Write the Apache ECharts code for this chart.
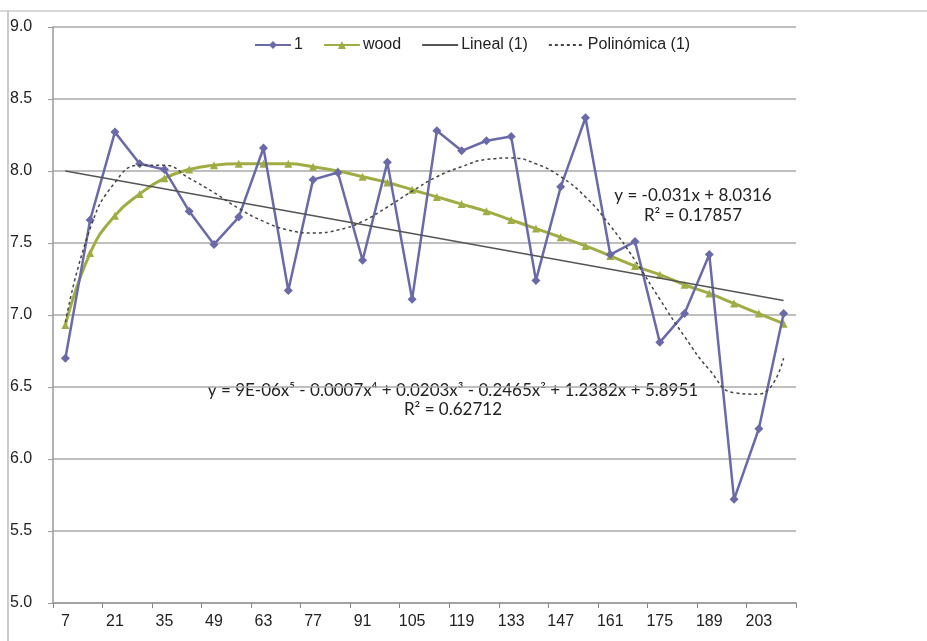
<!DOCTYPE html>
<html>
<head>
<meta charset="utf-8">
<script src="https://cdn.jsdelivr.net/npm/echarts@6/dist/echarts.min.js"></script>
<style>
  html, body { margin: 0; padding: 0; background: #fff; }
  #chart { width: 927px; height: 641px; }
</style>
</head>
<body>
<div id="chart"></div>
<script>
// days, step of 7
var days = ['7', '14', '21', '28', '35', '42', '49', '56', '63', '70', '77', '84', '91', '98', '105',
  '112', '119', '126', '133', '140', '147', '154', '161', '168', '175', '182', '189', '196', '203', '210']
var serie1 = [6.70, 7.66, 8.27, 8.05, 8.01, 7.72, 7.49, 7.68, 8.16, 7.17, 7.94, 7.99, 7.38, 8.06, 7.11,
  8.28, 8.14, 8.21, 8.24, 7.24, 7.89, 8.37, 7.42, 7.51, 6.81, 7.01, 7.42, 5.72, 6.21, 7.01]
var wood = [6.93, 7.43, 7.69, 7.84, 7.95, 8.01, 8.04, 8.05, 8.05, 8.05, 8.03, 8.00, 7.96, 7.92, 7.87,
  7.82, 7.77, 7.72, 7.66, 7.60, 7.54, 7.48, 7.41, 7.34, 7.28, 7.21, 7.15, 7.08, 7.01, 6.94]
// trend line ends (first and last day)
var lineal = [['7', 8.00], ['210', 7.10]]
var polinomica = [6.95, 7.60, 7.92, 8.04, 8.04, 7.95, 7.85, 7.74, 7.65, 7.59, 7.57, 7.59, 7.65, 7.75, 7.86,
  7.96, 8.03, 8.08, 8.09, 8.05, 7.96, 7.82, 7.62, 7.38, 7.11, 6.85, 6.62, 6.46, 6.45, 6.70]

var purple = '#6a6aa8'
var olive = '#a0ad45'
var txtFont = '17px Lato, "Open Sans", sans-serif'

var option = {
  animation: false,
  backgroundColor: '#fff',
  textStyle: { fontFamily: '"Liberation Sans", Arial, sans-serif' },
  legend: {
    top: 32,
    left: 249,
    itemGap: 20,
    itemWidth: 36,
    itemHeight: 10,
    textStyle: { fontSize: 16, color: '#222', padding: [0, 0, 0, -2] },
    data: [
      '1',
      'wood',
      { name: 'Lineal (1)', itemStyle: { opacity: 0 } },
      { name: 'Polinómica (1)', itemStyle: { opacity: 0 } }
    ]
  },
  grid: { left: 53, right: 131, top: 27, bottom: 38 },
  xAxis: {
    type: 'category',
    data: days,
    boundaryGap: true,
    axisLine: { lineStyle: { color: '#999', width: 1.5 } },
    axisTick: { show: true, length: 5, lineStyle: { color: '#888' } },
    axisLabel: { interval: 1, color: '#222', fontSize: 16, margin: 11 },
    splitLine: { show: false }
  },
  yAxis: {
    type: 'value',
    min: 5, max: 9, interval: 0.5,
    axisLine: { show: true, lineStyle: { color: '#999', width: 1.5 } },
    axisTick: { show: true, length: 5, lineStyle: { color: '#999' } },
    axisLabel: {
      color: '#222', fontSize: 16, margin: 43, align: 'left',
      formatter: function (v) { return v.toFixed(1) }
    },
    splitLine: { lineStyle: { color: '#aaa', width: 1.5 } }
  },
  graphic: [
    { type: 'line', shape: { x1: 0, y1: 11, x2: 927, y2: 11 }, style: { stroke: '#ccc', lineWidth: 1.5 } },
    { type: 'line', shape: { x1: 8, y1: 11, x2: 8, y2: 641 }, style: { stroke: '#bbb', lineWidth: 1.5 } },
    { type: 'text', x: 693, y: 196, style: { text: 'y = -0.031x + 8.0316', font: txtFont, fill: '#222', textAlign: 'center', textVerticalAlign: 'middle' } },
    { type: 'text', x: 693, y: 216, style: { text: 'R² = 0.17857', font: txtFont, fill: '#222', textAlign: 'center', textVerticalAlign: 'middle' } },
    { type: 'text', x: 453, y: 391, style: { text: 'y = 9E-06x⁵ - 0.0007x⁴ + 0.0203x³ - 0.2465x² + 1.2382x + 5.8951', font: txtFont, fill: '#222', textAlign: 'center', textVerticalAlign: 'middle' } },
    { type: 'text', x: 453, y: 410, style: { text: 'R² = 0.62712', font: txtFont, fill: '#222', textAlign: 'center', textVerticalAlign: 'middle' } }
  ],
  series: [
    {
      name: '1',
      type: 'line',
      data: serie1,
      symbol: 'diamond',
      symbolSize: 9,
      itemStyle: { color: purple },
      lineStyle: { color: purple, width: 2.5 },
      z: 3
    },
    {
      name: 'wood',
      type: 'line',
      data: wood,
      smooth: true,
      symbol: 'triangle',
      symbolSize: 8,
      itemStyle: { color: olive },
      lineStyle: { color: olive, width: 3 },
      z: 2
    },
    {
      name: 'Lineal (1)',
      type: 'line',
      data: lineal,
      symbol: 'none',
      itemStyle: { color: '#555' },
      lineStyle: { color: '#555', width: 1.5 },
      z: 4
    },
    {
      name: 'Polinómica (1)',
      type: 'line',
      data: polinomica,
      smooth: true,
      symbol: 'none',
      itemStyle: { color: '#444' },
      lineStyle: { color: '#444', width: 1.5, type: [3, 3] },
      z: 4
    }
  ]
}

var myChart = echarts.init(document.getElementById('chart'))
myChart.setOption(option)
</script>
</body>
</html>
